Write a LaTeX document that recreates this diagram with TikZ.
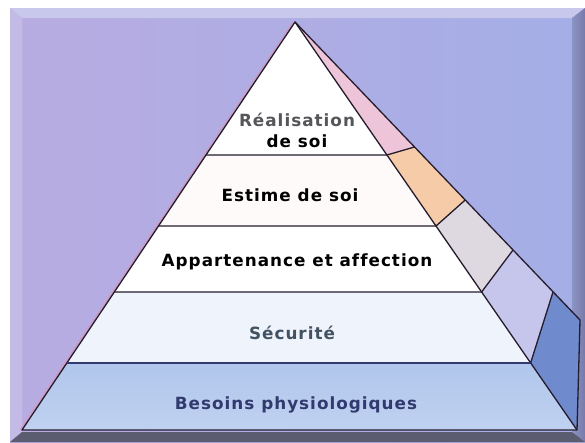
\documentclass[tikz,border=0pt]{standalone}
\usepackage{fontspec}
\setmainfont{DejaVu Sans}[LetterSpace=6, Ligatures=NoCommon]
\definecolor{panelleft}{RGB}{184,172,226}
\definecolor{panelright}{RGB}{164,174,230}
\definecolor{bevtop}{RGB}{200,200,236}
\definecolor{bevright}{RGB}{118,122,170}
\definecolor{bevbottom}{RGB}{92,92,112}
\definecolor{bevleft}{RGB}{196,186,230}
\definecolor{edgecol}{RGB}{36,28,44}
\definecolor{edgeshadow}{RGB}{214,150,190}
\definecolor{sidepink}{RGB}{238,196,216}
\definecolor{sideorange}{RGB}{246,204,168}
\definecolor{sidegrey}{RGB}{222,216,224}
\definecolor{sidelav}{RGB}{198,198,236}
\definecolor{sideblue}{RGB}{112,138,206}
\definecolor{bandsec}{RGB}{238,243,252}
\definecolor{bandbase}{RGB}{176,198,236}
\definecolor{txtgrey}{RGB}{86,86,90}
\definecolor{txtslate}{RGB}{66,82,98}
\definecolor{txtnavy}{RGB}{48,58,110}
\tikzset{
  pyrline/.style={draw=edgecol, line width=1.3pt},
  lvltext/.style={font=\bfseries\fontsize{16.8}{19}\selectfont, align=center, inner sep=0pt}
}
\begin{document}
\begin{tikzpicture}[x=1pt,y=-1pt]
\useasboundingbox (0,0) rectangle (585,442);
% panel and bevel
\shade[left color=panelleft, right color=panelright] (10,8) rectangle (585,442);
\fill[bevtop] (10,8) -- (585,8) -- (572,18) -- (22,18) -- cycle;
\fill[bevleft] (10,8) -- (22,18) -- (22,432) -- (10,442) -- cycle;
\shade[left color=panelright!85!black, right color=bevright] (585,8) -- (585,442) -- (572,432) -- (572,18) -- cycle;
\fill[bevbottom] (10,442) -- (585,442) -- (572,432) -- (22,432) -- cycle;
% pyramid corners
\coordinate (apex) at (295,22);
\coordinate (baseleft) at (22,430);
\coordinate (baseright) at (577,430);
\coordinate (sidecorner) at (580,320);
% front bands
\fill[white] (apex) -- (386.9,155) -- (206,155) -- cycle;
\fill[white!98!red] (206,155) -- (386.9,155) -- (436,226) -- (158.5,226) -- cycle;
\fill[white] (158.5,226) -- (436,226) -- (481.6,292) -- (114.4,292) -- cycle;
\fill[bandsec] (114.4,292) -- (481.6,292) -- (530.6,363) -- (66.9,363) -- cycle;
\shade[top color=bandbase, bottom color=bandbase!80!white] (66.9,363) -- (530.6,363) -- (baseright) -- (baseleft) -- cycle;
% side panels
\fill[sidepink] (apex) -- (414.5,147) -- (386.9,155) -- cycle;
\fill[sideorange] (386.9,155) -- (414.5,147) -- (465.2,200) -- (436,226) -- cycle;
\fill[sidegrey] (436,226) -- (465.2,200) -- (513,250) -- (481.6,292) -- cycle;
\fill[sidelav] (481.6,292) -- (513,250) -- (553,292) -- (530.6,363) -- cycle;
\fill[sideblue] (530.6,363) -- (553,292) -- (sidecorner) -- (baseright) -- cycle;
% outlines
\draw[edgeshadow, line width=1pt] ([xshift=-2pt]baseleft) -- ([xshift=-2pt]apex);
\draw[pyrline, line join=round] (baseleft) -- (apex) -- (sidecorner) -- (baseright) -- cycle;
\draw[pyrline] (apex) -- (baseright);
\draw[pyrline] (206,155) -- (386.9,155) -- (414.5,147);
\draw[pyrline] (158.5,226) -- (436,226) -- (465.2,200);
\draw[pyrline] (114.4,292) -- (481.6,292) -- (513,250);
\draw[pyrline, draw=txtnavy, line width=1.8pt] (66.9,363) -- (530.6,363);
\draw[pyrline] (530.6,363) -- (553,292);
% level labels
\node[lvltext, text=txtgrey] (realisation) at (297,120) {Réalisation};
\node[lvltext] (desoi) at (297,141) {de soi};
\node[lvltext] (estime) at (290,195) {Estime de soi};
\node[lvltext] (appartenance) at (297,262) {Appartenance et affection};
\node[lvltext, text=txtslate] (securite) at (292,333) {Sécurité};
\node[lvltext, text=txtnavy] (besoins) at (296,405) {Besoins physiologiques};
\end{tikzpicture}
\end{document}
